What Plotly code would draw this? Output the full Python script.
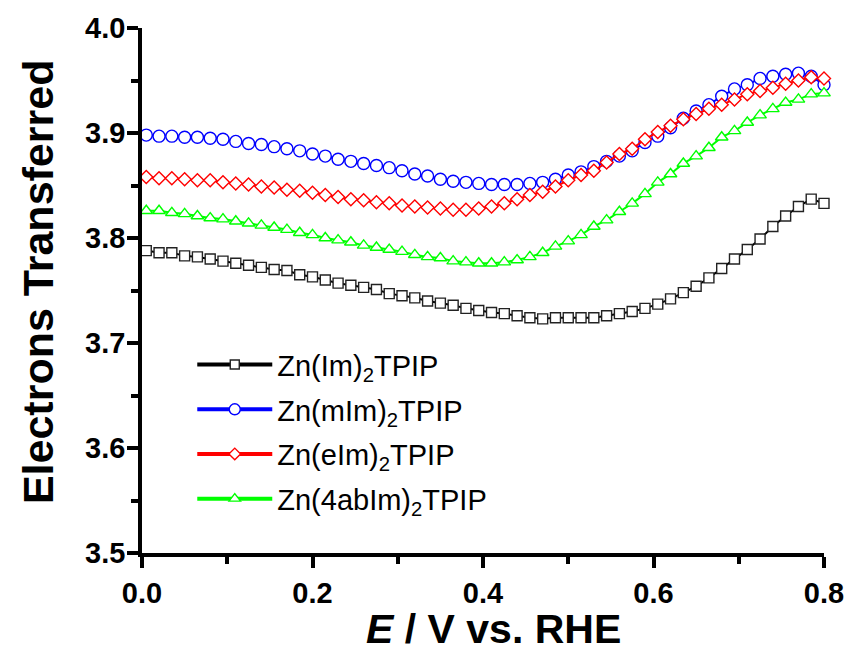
import plotly.graph_objects as go

# Potential (V vs. RHE)
E = [0.005, 0.020, 0.035, 0.050, 0.065, 0.080, 0.095, 0.110, 0.125, 0.140,
     0.155, 0.170, 0.185, 0.200, 0.215, 0.230, 0.245, 0.260, 0.275, 0.290,
     0.305, 0.320, 0.335, 0.350, 0.365, 0.380, 0.395, 0.410, 0.425, 0.440,
     0.455, 0.470, 0.485, 0.500, 0.515, 0.530, 0.545, 0.560, 0.575, 0.590,
     0.605, 0.620, 0.635, 0.650, 0.665, 0.680, 0.695, 0.710, 0.725, 0.740,
     0.755, 0.770, 0.785, 0.800]

# Electrons transferred for each catalyst
n_Im = [3.788, 3.786, 3.786, 3.783, 3.782, 3.780, 3.778, 3.776, 3.774, 3.772,
        3.770, 3.769, 3.765, 3.763, 3.760, 3.757, 3.755, 3.753, 3.751, 3.747,
        3.745, 3.743, 3.740, 3.738, 3.736, 3.733, 3.731, 3.729, 3.728, 3.726,
        3.724, 3.723, 3.724, 3.724, 3.724, 3.724, 3.726, 3.728, 3.730, 3.733,
        3.737, 3.742, 3.748, 3.754, 3.762, 3.771, 3.780, 3.789, 3.799, 3.811,
        3.821, 3.830, 3.837, 3.833]
n_mIm = [3.898, 3.897, 3.897, 3.896, 3.896, 3.895, 3.894, 3.892, 3.890, 3.889,
         3.887, 3.885, 3.883, 3.880, 3.878, 3.875, 3.873, 3.871, 3.869, 3.867,
         3.864, 3.861, 3.859, 3.856, 3.854, 3.853, 3.852, 3.851, 3.851, 3.851,
         3.852, 3.853, 3.856, 3.860, 3.863, 3.868, 3.873, 3.878, 3.883, 3.891,
         3.897, 3.905, 3.914, 3.921, 3.927, 3.935, 3.942, 3.946, 3.952, 3.954,
         3.956, 3.957, 3.954, 3.946]
n_eIm = [3.858, 3.857, 3.857, 3.856, 3.855, 3.855, 3.853, 3.852, 3.851, 3.849,
         3.848, 3.846, 3.845, 3.843, 3.841, 3.839, 3.837, 3.836, 3.834, 3.833,
         3.831, 3.830, 3.829, 3.828, 3.827, 3.827, 3.828, 3.830, 3.833, 3.837,
         3.841, 3.844, 3.849, 3.855, 3.860, 3.864, 3.872, 3.880, 3.885, 3.894,
         3.901, 3.907, 3.913, 3.918, 3.923, 3.927, 3.932, 3.937, 3.940, 3.943,
         3.947, 3.950, 3.953, 3.952]
n_4abIm = [3.826, 3.826, 3.824, 3.823, 3.821, 3.819, 3.818, 3.816, 3.814, 3.812,
           3.810, 3.808, 3.805, 3.803, 3.800, 3.798, 3.796, 3.793, 3.791, 3.789,
           3.787, 3.784, 3.782, 3.781, 3.778, 3.777, 3.776, 3.776, 3.777, 3.779,
           3.782, 3.786, 3.792, 3.797, 3.803, 3.811, 3.817, 3.825, 3.833, 3.842,
           3.853, 3.861, 3.871, 3.878, 3.886, 3.896, 3.902, 3.910, 3.917, 3.923,
           3.929, 3.932, 3.937, 3.938]

labels = ["Zn(Im)<sub>2</sub>TPIP", "Zn(mIm)<sub>2</sub>TPIP",
          "Zn(eIm)<sub>2</sub>TPIP", "Zn(4abIm)<sub>2</sub>TPIP"]
colors = ["#000000", "#0000FF", "#FF0000", "#00FF00"]
edge_colors = ["#222222", "#0000FF", "#FF0000", "#00FF00"]
symbols = ["square", "circle", "diamond", "triangle-up"]
sizes = [10, 12, 10, 11]
series = [n_Im, n_mIm, n_eIm, n_4abIm]

fig = go.Figure()
for col, ecol, sym, sz, ys in zip(colors, edge_colors, symbols, sizes, series):
    fig.add_trace(go.Scatter(
        x=E, y=ys, mode="lines+markers", showlegend=False, cliponaxis=False,
        line=dict(color=col, width=2),
        marker=dict(symbol=sym, size=sz, color="white",
                    line=dict(color=ecol, width=1.4)),
    ))
# legend entries (thicker sample lines)
for i, (lab, col, ecol, sym, sz) in enumerate(zip(labels, colors, edge_colors, symbols, sizes)):
    fig.add_trace(go.Scatter(
        x=[None], y=[None], mode="lines+markers", name=lab, legendgroup=f"g{i}",
        line=dict(color=col, width=4),
        marker=dict(symbol=sym, size=sz - 1, color="white",
                    line=dict(color=ecol, width=1.4)),
    ))

W, H = 856, 654
L, R, T, B = 142, 22, 25, 101
pw, ph = W - L - R, H - T - B

def px_x(px):
    return (px - L) / pw

def px_y(py):
    return (H - B - py) / ph

axis_common = dict(
    showline=True, linecolor="black", linewidth=3.5, mirror=False,
    ticks="outside", tickwidth=3.5, tickcolor="black", ticklen=11,
    showgrid=False, zeroline=False,
    tickfont=dict(family="Liberation Sans", size=29, color="black", weight="bold"),
)

fig.update_xaxes(range=[0, 0.8], dtick=0.2, tick0=0, tickformat=".1f",
                 minor=dict(dtick=0.1, ticklen=7, tickwidth=3.5, tickcolor="black", ticks="outside"),
                 **axis_common)
fig.update_yaxes(range=[3.5, 4.0], dtick=0.1, tick0=3.5, tickformat=".1f",
                 ticklabelstandoff=-4,
                 minor=dict(dtick=0.05, ticklen=7, tickwidth=3.5, tickcolor="black", ticks="outside"),
                 **axis_common)

fig.add_annotation(text="<i>E</i> / V vs. RHE", xref="paper", yref="paper",
                   x=px_x(499), y=px_y(629), xanchor="center", yanchor="middle",
                   showarrow=False,
                   font=dict(family="Liberation Sans", size=41, color="black", weight="bold"))
fig.add_annotation(text="Electrons Transferred", xref="paper", yref="paper",
                   x=px_x(36), y=px_y(280), xanchor="center", yanchor="middle",
                   textangle=-90, showarrow=False,
                   font=dict(family="Liberation Sans", size=43, color="black", weight="bold"))

fig.update_layout(
    width=W, height=H, margin=dict(l=L, r=R, t=T, b=B),
    paper_bgcolor="white", plot_bgcolor="white",
    legend=dict(x=px_x(193), y=px_y(338), xanchor="left", yanchor="top",
                bgcolor="rgba(0,0,0,0)", borderwidth=0, itemwidth=75,
                tracegroupgap=4,
                font=dict(family="Liberation Sans", size=29, color="black")),
)

fig.write_html("out.html")
